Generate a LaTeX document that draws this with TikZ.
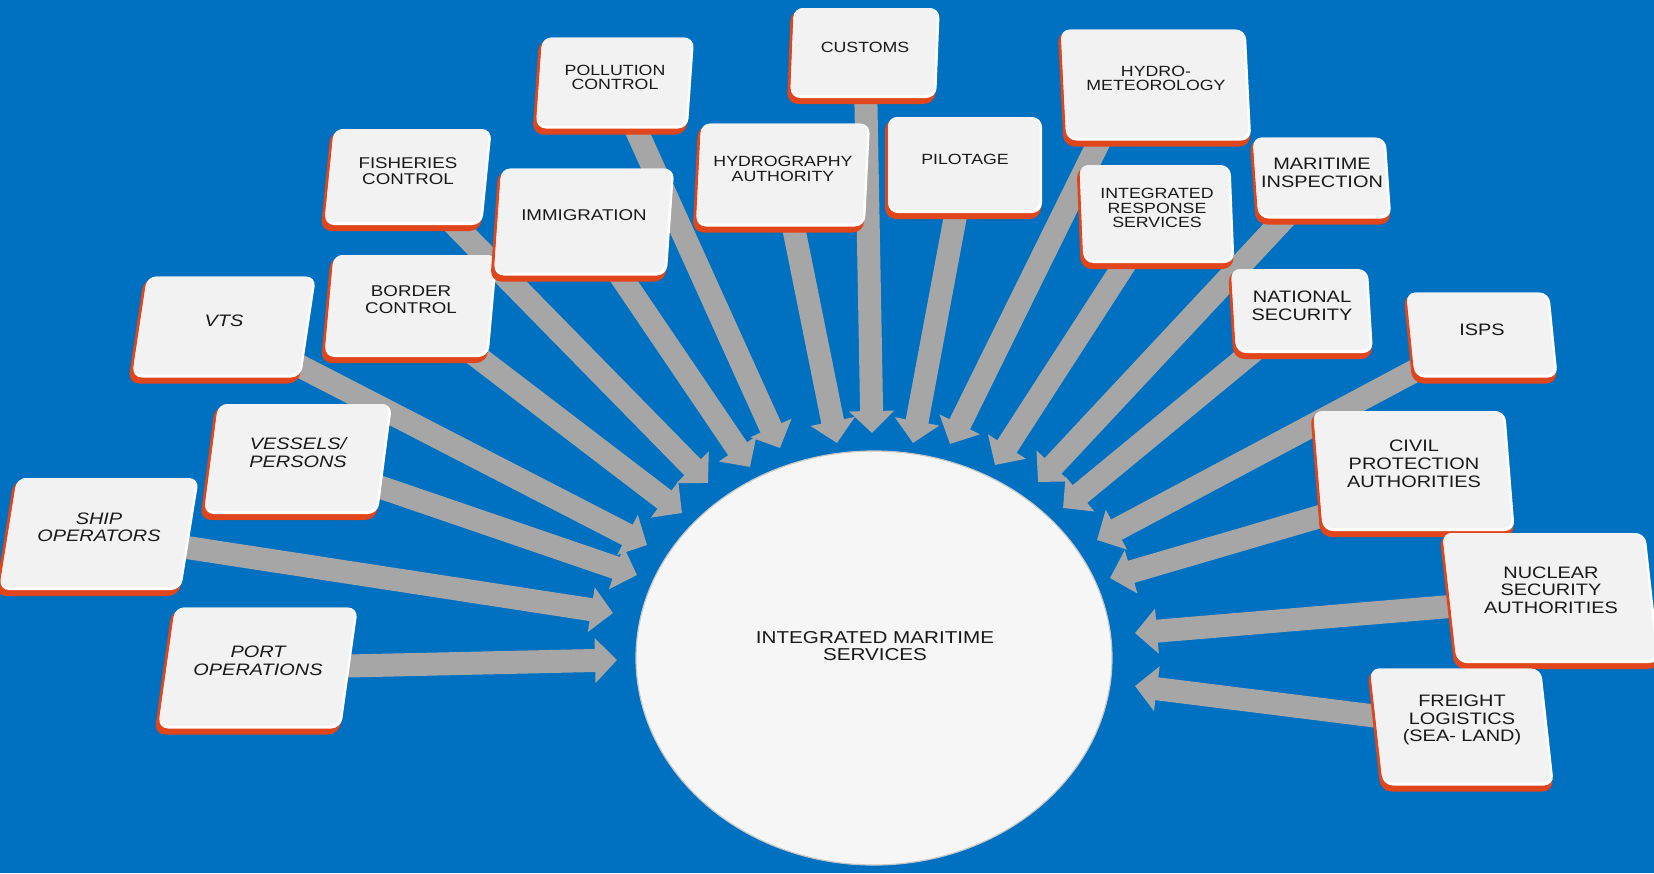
\documentclass[tikz,border=0pt]{standalone}
\usepackage{fontspec}
\setmainfont{Liberation Sans}[FakeStretch=1.2]
\usetikzlibrary{arrows.meta,calc,shapes.geometric}
\definecolor{bgblue}{HTML}{0070C0}
\definecolor{edgered}{HTML}{E0451C}
\definecolor{face}{HTML}{F2F2F2}
\definecolor{arrowgray}{HTML}{A6A6A6}
\definecolor{ellfill}{HTML}{F6F6F6}
\pgfdeclarelayer{bg}
\pgfdeclarelayer{arr}
\pgfsetlayers{bg,arr,main}
\tikzset{
  pointer/.style={draw=arrowgray, line width=11.5pt, -{Triangle[width=22pt,length=11pt]}},
  boxspot/.style={rectangle, inner sep=0pt, draw=none},
  lblL/.style={font=\fontsize{8.3}{8.8}\selectfont, align=center, inner sep=0pt, text=black!90},
  lblM/.style={font=\fontsize{7.8}{8.3}\selectfont, align=center, inner sep=0pt, text=black!90},
  lblS/.style={font=\fontsize{7.4}{7.3}\selectfont, align=center, inner sep=0pt, text=black!90},
  ital/.style={font=\fontsize{8.3}{8.8}\selectfont\itshape},
  hub/.style={ellipse, fill=ellfill, draw=gray!45, line width=0.6pt, inner sep=0pt},
  hubtext/.style={font=\fontsize{8.6}{8.7}\selectfont, align=center, inner sep=0pt, text=black!90}
}
% name, cx, cy, w, h, slant, text style, text
\newcommand\tagbox[8]{%
  \begin{scope}[shift={(#2,#3)}, xslant=#6]
    \fill[edgered, rounded corners=5.5pt] ({-#4/2-3},{-#5/2+2}) rectangle ({#4/2-1},{#5/2+6});
    \fill[white, rounded corners=5pt] ({-#4/2},{-#5/2}) rectangle ({#4/2},{#5/2});
    \fill[face, rounded corners=4.5pt] ({-#4/2},{-#5/2}) rectangle ({#4/2-2.5},{#5/2-3});
  \end{scope}
  \node[boxspot, minimum width=#4*0.5pt, minimum height=#5*0.5pt] (#1) at (#2,#3) {};
  \node[#7] (#1-t) at (#2,{#3-0.06*#5}) {#8};
}
\begin{document}
\begin{tikzpicture}[x=0.5pt, y=-0.5pt]
\useasboundingbox (0,0) rectangle (1654,873);
\begin{pgfonlayer}{bg}
  \fill[bgblue] (0,0) rectangle (1654,873);
\end{pgfonlayer}

% central hub
\node[hub, minimum width=476*0.5pt, minimum height=414*0.5pt] (hub) at (874,658) {};
\node[hubtext] (hubt) at (875,646) {INTEGRATED MARITIME\\SERVICES};

% boxes
\tagbox{port}{258}{668}{183}{121}{0.14}{lblL,ital}{PORT\\OPERATIONS}
\tagbox{ship}{99}{534}{182}{112}{0.16}{lblL,ital}{SHIP\\OPERATORS}
\tagbox{vess}{298}{459}{174}{110}{0.13}{lblL,ital}{VESSELS/\\PERSONS}
\tagbox{vts}{224}{327}{169}{101}{0.15}{lblL,ital}{VTS}
\tagbox{bord}{411}{306}{164}{102}{0.09}{lblM}{BORDER\\CONTROL}
\tagbox{fish}{408}{177}{158}{96}{0.10}{lblM}{FISHERIES\\CONTROL}
\tagbox{immi}{584}{222}{173}{107}{0.07}{lblM}{IMMIGRATION}
\tagbox{poll}{615}{83}{152}{91}{0.07}{lblS}{POLLUTION\\CONTROL}
\tagbox{hydr}{783}{175}{169}{103}{0.05}{lblS}{HYDROGRAPHY\\AUTHORITY}
\tagbox{cust}{865}{53}{146}{90}{0.04}{lblS}{CUSTOMS}
\tagbox{pilo}{965}{165}{154}{96}{0.0}{lblS}{PILOTAGE}
\tagbox{hmet}{1156}{85}{185}{111}{-0.05}{lblS}{HYDRO-\\METEOROLOGY}
\tagbox{irs}{1157}{214}{151}{98}{-0.04}{lblS}{INTEGRATED\\RESPONSE\\SERVICES}
\tagbox{mins}{1322}{178}{133}{81}{-0.07}{lblL}{MARITIME\\INSPECTION}
\tagbox{nsec}{1302}{311}{137}{84}{-0.06}{lblL}{NATIONAL\\SECURITY}
\tagbox{isps}{1482}{335}{143}{85}{-0.10}{lblL}{ISPS}
\tagbox{civ}{1414}{471}{192}{120}{-0.08}{lblL}{CIVIL\\PROTECTION\\AUTHORITIES}
\tagbox{nuc}{1551}{598}{203}{130}{-0.11}{lblL}{NUCLEAR\\SECURITY\\AUTHORITIES}
\tagbox{frei}{1462}{727}{171}{117}{-0.11}{lblL}{FREIGHT\\LOGISTICS\\(SEA- LAND)}

% arrow tips
\coordinate (tport) at (617,660);
\coordinate (tship) at (613,613);
\coordinate (tvess) at (637,575);
\coordinate (tvts)  at (647,545);
\coordinate (tbord) at (682,513);
\coordinate (tfish) at (708,483);
\coordinate (timmi) at (750,467);
\coordinate (tpoll) at (780,448);
\coordinate (thydr) at (837,443);
\coordinate (tcust) at (872,433);
\coordinate (tpilo) at (913,443);
\coordinate (thmet) at (950,444);
\coordinate (tirs)  at (995,465);
\coordinate (tmins) at (1038,482);
\coordinate (tnsec) at (1063,508);
\coordinate (tisps) at (1097,540);
\coordinate (tciv)  at (1110,578);
\coordinate (tnuc)  at (1135,633);
\coordinate (tfrei) at (1135,686);

\begin{pgfonlayer}{arr}
  \draw[pointer] (port.center) -- (tport);
  \draw[pointer] (ship.center) -- (tship);
  \draw[pointer] (vess.center) -- (tvess);
  \draw[pointer] (vts.center) -- (tvts);
  \draw[pointer] (bord.center) -- (tbord);
  \draw[pointer] (fish.center) -- (tfish);
  \draw[pointer] (immi.center) -- (timmi);
  \draw[pointer] (poll.center) -- (tpoll);
  \draw[pointer] (hydr.center) -- (thydr);
  \draw[pointer] (cust.center) -- (tcust);
  \draw[pointer] (pilo.center) -- (tpilo);
  \draw[pointer] ($(hmet.center)+(-29,0)$) -- (thmet);
  \draw[pointer] (irs.center) -- (tirs);
  \draw[pointer] (mins.center) -- (tmins);
  \draw[pointer] (nsec.center) -- (tnsec);
  \draw[pointer] (isps.center) -- (tisps);
  \draw[pointer] ($(civ.center)+(0,18)$) -- (tciv);
  \draw[pointer] (nuc.center) -- (tnuc);
  \draw[pointer] (frei.center) -- (tfrei);
\end{pgfonlayer}
\end{tikzpicture}
\end{document}
